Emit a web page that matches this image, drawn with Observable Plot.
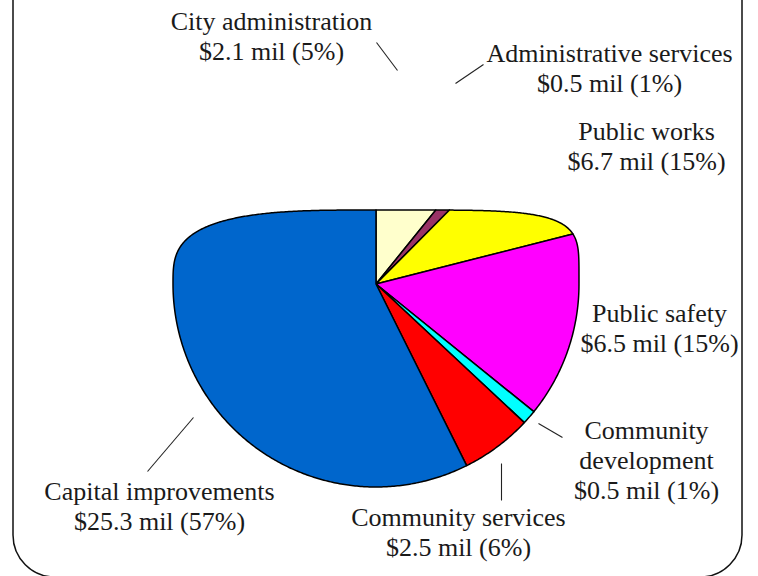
<!DOCTYPE html>
<html>
<head>
<meta charset="utf-8">
<script src="https://cdn.jsdelivr.net/npm/d3@7"></script>
<script src="https://cdn.jsdelivr.net/npm/@observablehq/plot@0.6"></script>
<style>
  html, body { margin: 0; padding: 0; background: #fff; }
  #chart svg { display: block; }
</style>
</head>
<body>
<div id="chart"></div>
<script>
// ---- data ----
const categories = [
  "City administration",
  "Administrative services",
  "Public works",
  "Public safety",
  "Community development",
  "Community services",
  "Capital improvements"
];
const values = [2.1, 0.5, 6.7, 6.5, 0.5, 2.5, 25.3]; // $ millions
const colors = ["#FFFFCC", "#993366", "#FFFF00", "#FF00FF", "#00FFFF", "#FF0000", "#0066CC"];

// ---- layout (pixels) ----
const W = 758, H = 576;
const pieLayout = {cx: 375.5, cy: 283.5, r: 203, topHalf: 74, expLeft: 3.2, expRight: 5};
const labelLayout = [
  {x: 271, y: 29, wrap: false},
  {x: 609, y: 61, wrap: false},
  {x: 646, y: 139, wrap: false},
  {x: 659, y: 321, wrap: false},
  {x: 646, y: 438, wrap: true},
  {x: 458, y: 525, wrap: false},
  {x: 159, y: 499, wrap: false}
];
const leaderLayout = [
  [376, 42, 397, 70],
  [455, 83, 483, 64],
  null,
  null,
  [538, 423, 562, 437],
  [501, 463, 501, 500],
  [147, 471, 193, 417]
];
const fontSize = 26, lineGap = 30;
const fontFamily = "Liberation Serif";

// ---- build geometry through d3.pie ----
const total = d3.sum(values);
const arcs = d3.pie().sort(null).value(d => d)(values);

function toPoint(a) {
  const {cx, cy, r, topHalf, expLeft, expRight} = pieLayout;
  const x = r * Math.sin(a);
  let yUp = r * Math.cos(a);
  if (yUp > 0) {
    const n = x < 0 ? expLeft : expRight;
    const t = Math.min(1, Math.abs(x) / r);
    yUp = topHalf * Math.pow(Math.max(0, 1 - Math.pow(t, n)), 1 / n);
  }
  return [cx + x, cy - yUp];
}

const sliceRows = [];
arcs.forEach((arc, i) => {
  const name = categories[i];
  sliceRows.push({name, x: pieLayout.cx, y: pieLayout.cy});
  const steps = Math.max(2, Math.ceil((arc.endAngle - arc.startAngle) / (Math.PI / 360)));
  for (let k = 0; k <= steps; k++) {
    const a = arc.startAngle + (arc.endAngle - arc.startAngle) * k / steps;
    const [x, y] = toPoint(a);
    sliceRows.push({name, x, y});
  }
});

const labelRows = [];
categories.forEach((name, i) => {
  const L = labelLayout[i];
  const pct = Math.round(values[i] / total * 100);
  const lines = (L.wrap ? name.split(" ") : [name]).concat([`$${values[i].toFixed(1)} mil (${pct}%)`]);
  lines.forEach((t, j) => {
    labelRows.push({x: L.x, y: L.y + j * lineGap - 0.32 * fontSize, text: t});
  });
});

const leaderRows = leaderLayout.filter(d => d).map(([x1, y1, x2, y2]) => ({x1, y1, x2, y2}));
const frameRows = [{x1: 13, x2: 742, y1: -60, y2: 577}];

const chart = Plot.plot({
  width: W,
  height: H,
  margin: 0,
  x: {domain: [0, W], range: [0, W], axis: null},
  y: {domain: [0, H], range: [0, H], axis: null},
  color: {domain: categories, range: colors},
  style: {background: "#fff"},
  marks: [
    Plot.rect(frameRows, {x1: "x1", x2: "x2", y1: "y1", y2: "y2", rx: 42, fill: "none", stroke: "#111", strokeWidth: 1.5}),
    Plot.line(sliceRows, {x: "x", y: "y", z: "name", fill: "name", stroke: "#000", strokeWidth: 1.5, curve: "linear-closed"}),
    Plot.link(leaderRows, {x1: "x1", y1: "y1", x2: "x2", y2: "y2", stroke: "#222", strokeWidth: 1.1}),
    Plot.text(labelRows, {x: "x", y: "y", text: "text", fontSize, fontFamily, textAnchor: "middle", lineAnchor: "middle", fill: "#1a1a1a"})
  ]
});
document.getElementById("chart").appendChild(chart);
</script>
</body>
</html>
